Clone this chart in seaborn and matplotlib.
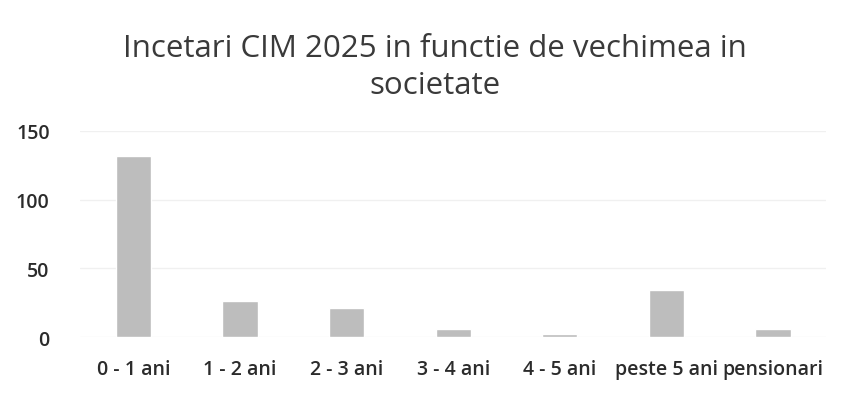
import matplotlib
matplotlib.use('Agg')
import matplotlib.pyplot as plt
import seaborn as sns
import pandas as pd

# --- DATE ---
categorii = ['0 - 1 ani', '1 - 2 ani', '2 - 3 ani', '3 - 4 ani', '4 - 5 ani', 'peste 5 ani', 'pensionari']
incetari = [132, 26, 21, 6, 2, 34, 6]
y_ticks = [0, 50, 100, 150]

df = pd.DataFrame({'categorie': categorii, 'n': incetari})

sns.set_style("white")
plt.rcParams['font.family'] = ['Open Sans', 'DejaVu Sans']

fig = plt.figure(figsize=(8.44, 4.06), dpi=100)
ax = fig.add_axes([0.095, 0.167, 0.884, 0.508])

sns.barplot(data=df, x='categorie', y='n', color='#bdbdbd', width=0.33,
            saturation=1, ax=ax)

ax.set_ylim(0, 150)
ax.set_yticks(y_ticks)
ax.yaxis.grid(True, color='#f0f0f0', linewidth=1)
ax.set_axisbelow(True)
for s in ax.spines.values():
    s.set_visible(False)
ax.tick_params(axis='both', length=0, labelsize=14, colors='#2b2b2b')
ax.tick_params(axis='y', pad=22)
ax.tick_params(axis='x', pad=16)
for lab in ax.get_xticklabels() + ax.get_yticklabels():
    lab.set_fontweight('semibold')
ax.set_xlabel("")
ax.set_ylabel("")

fig.text(0.515, 0.833, "Incetari CIM 2025 in functie de vechimea in\nsocietate",
         ha='center', va='center', fontsize=22.5, color='#3a3a3a', linespacing=1.3)

plt.savefig("out.png", dpi=100)
plt.close()
